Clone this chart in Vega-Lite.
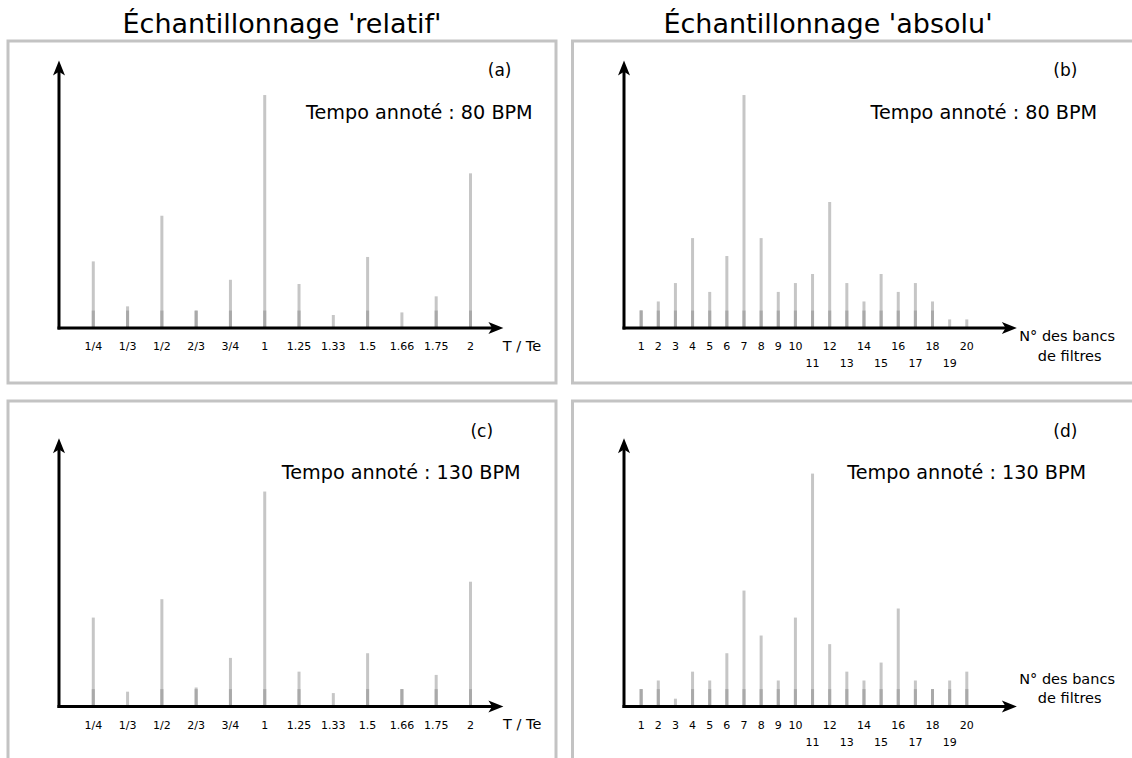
{
  "$schema": "https://vega.github.io/schema/vega-lite/v6.json",
  "background": "white",
  "padding": {"left": 6, "top": 9, "right": 0, "bottom": 0},
  "datasets": {
    "a": [
      {"k": 1, "ratio": "1/4", "v": 28.6}, {"k": 2, "ratio": "1/3", "v": 9.3}, {"k": 3, "ratio": "1/2", "v": 48.2},
      {"k": 4, "ratio": "2/3", "v": 7.4}, {"k": 5, "ratio": "3/4", "v": 20.7}, {"k": 6, "ratio": "1", "v": 100},
      {"k": 7, "ratio": "1.25", "v": 18.9}, {"k": 8, "ratio": "1.33", "v": 5.6}, {"k": 9, "ratio": "1.5", "v": 30.5},
      {"k": 10, "ratio": "1.66", "v": 6.7}, {"k": 11, "ratio": "1.75", "v": 13.6}, {"k": 12, "ratio": "2", "v": 66.4}
    ],
    "b": [
      {"k": 1, "v": 7.6}, {"k": 2, "v": 11.4}, {"k": 3, "v": 19.3}, {"k": 4, "v": 38.6}, {"k": 5, "v": 15.5},
      {"k": 6, "v": 30.9}, {"k": 7, "v": 100}, {"k": 8, "v": 38.6}, {"k": 9, "v": 15.5}, {"k": 10, "v": 19.3},
      {"k": 11, "v": 23.2}, {"k": 12, "v": 54.1}, {"k": 13, "v": 19.3}, {"k": 14, "v": 11.4}, {"k": 15, "v": 23.2},
      {"k": 16, "v": 15.5}, {"k": 17, "v": 19.3}, {"k": 18, "v": 11.4}, {"k": 19, "v": 3.7}, {"k": 20, "v": 3.7}
    ],
    "c": [
      {"k": 1, "ratio": "1/4", "v": 38.2}, {"k": 2, "ratio": "1/3", "v": 6.4}, {"k": 3, "ratio": "1/2", "v": 46.1},
      {"k": 4, "ratio": "2/3", "v": 8.2}, {"k": 5, "ratio": "3/4", "v": 20.9}, {"k": 6, "ratio": "1", "v": 92.3},
      {"k": 7, "ratio": "1.25", "v": 15.0}, {"k": 8, "ratio": "1.33", "v": 5.8}, {"k": 9, "ratio": "1.5", "v": 22.9},
      {"k": 10, "ratio": "1.66", "v": 7.5}, {"k": 11, "ratio": "1.75", "v": 13.6}, {"k": 12, "ratio": "2", "v": 53.6}
    ],
    "d": [
      {"k": 1, "v": 7.5}, {"k": 2, "v": 11.2}, {"k": 3, "v": 3.4}, {"k": 4, "v": 15.0}, {"k": 5, "v": 11.2},
      {"k": 6, "v": 22.9}, {"k": 7, "v": 49.8}, {"k": 8, "v": 30.5}, {"k": 9, "v": 11.2}, {"k": 10, "v": 38.2},
      {"k": 11, "v": 100}, {"k": 12, "v": 26.8}, {"k": 13, "v": 15.0}, {"k": 14, "v": 11.2}, {"k": 15, "v": 18.9},
      {"k": 16, "v": 42.1}, {"k": 17, "v": 11.2}, {"k": 18, "v": 7.5}, {"k": 19, "v": 11.2}, {"k": 20, "v": 15.0}
    ],
    "one": [{}]
  },
  "spacing": 13.9,
  "vconcat": [
    {
      "spacing": 12.5,
      "hconcat": [
        {
          "width": 548, "height": 342,
          "title": {"text": "Échantillonnage 'relatif'"},
          "layer": [
            {"data": {"name": "a"}, "mark": {"type": "rule", "color": "#c6c6c6", "strokeWidth": 3},
             "encoding": {
               "x": {"field": "k", "type": "quantitative", "scale": {"domain": [-1.487, 14.494], "nice": false, "zero": false}, "axis": null},
               "y": {"field": "v", "type": "quantitative", "scale": {"domain": [-23.6, 123.2], "nice": false, "zero": false}, "axis": null},
               "y2": {"datum": 0}}},
            {"data": {"name": "a"}, "transform": [{"filter": "datum.v >= 7"}], "mark": {"type": "rule", "color": "#a9a9a9", "strokeWidth": 3},
             "encoding": {"x": {"field": "k", "type": "quantitative", "axis": null}, "y": {"datum": 0, "type": "quantitative", "axis": null}, "y2": {"datum": 7.5}}},
            {"data": {"name": "a"}, "mark": {"type": "text", "fontSize": 11, "align": "center", "baseline": "middle"},
             "encoding": {"x": {"field": "k", "type": "quantitative", "axis": null}, "y": {"datum": -8.15, "type": "quantitative", "axis": null}, "text": {"field": "ratio", "type": "nominal"}}},
            {"data": {"name": "one"}, "mark": {"type": "rule", "color": "black", "strokeWidth": 3, "strokeCap": "square"},
             "encoding": {"x": {"datum": 0, "type": "quantitative", "axis": null}, "y": {"datum": 0, "type": "quantitative", "axis": null}, "y2": {"datum": 110.3}}},
            {"data": {"name": "one"}, "mark": {"type": "rule", "color": "black", "strokeWidth": 3, "strokeCap": "square"},
             "encoding": {"x": {"datum": 0, "type": "quantitative", "axis": null}, "x2": {"datum": 12.7}, "y": {"datum": 0, "type": "quantitative", "axis": null}}},
            {"data": {"name": "one"}, "mark": {"type": "point", "shape": "M0,0 L0.8,2 L0,1.5 L-0.8,2 Z", "size": 225, "filled": true, "color": "black", "opacity": 1},
             "encoding": {"x": {"datum": 0, "type": "quantitative", "axis": null}, "y": {"datum": 114.8, "type": "quantitative", "axis": null}}},
            {"data": {"name": "one"}, "mark": {"type": "point", "shape": "M0,0 L-2,-0.8 L-1.5,0 L-2,0.8 Z", "size": 225, "filled": true, "color": "black", "opacity": 1},
             "encoding": {"x": {"datum": 12.96, "type": "quantitative", "axis": null}, "y": {"datum": 0, "type": "quantitative", "axis": null}}},
            {"data": {"name": "one"}, "mark": {"type": "text", "text": "(a)", "fontSize": 17, "align": "center", "baseline": "middle"},
             "encoding": {"x": {"datum": 12.85, "type": "quantitative", "axis": null}, "y": {"datum": 110.2, "type": "quantitative", "axis": null}}},
            {"data": {"name": "one"}, "mark": {"type": "text", "text": "Tempo annoté : 80 BPM", "fontSize": 19.2, "align": "center", "baseline": "middle"},
             "encoding": {"x": {"datum": 10.51, "type": "quantitative", "axis": null}, "y": {"datum": 92.4, "type": "quantitative", "axis": null}}},
            {"data": {"name": "one"}, "mark": {"type": "text", "text": "T / Te", "fontSize": 14.5, "align": "center", "baseline": "middle"},
             "encoding": {"x": {"datum": 13.5, "type": "quantitative", "axis": null}, "y": {"datum": -7.94, "type": "quantitative", "axis": null}}}
          ]
        },
        {
          "width": 575, "height": 342,
          "title": {"text": "Échantillonnage 'absolu'", "dx": -32},
          "layer": [
            {"data": {"name": "b"}, "mark": {"type": "rule", "color": "#c6c6c6", "strokeWidth": 3},
             "encoding": {
               "x": {"field": "k", "type": "quantitative", "scale": {"domain": [-3.005, 30.542], "nice": false, "zero": false}, "axis": null},
               "y": {"field": "v", "type": "quantitative", "scale": {"domain": [-23.6, 123.2], "nice": false, "zero": false}, "axis": null},
               "y2": {"datum": 0}}},
            {"data": {"name": "b"}, "transform": [{"filter": "datum.v >= 7"}], "mark": {"type": "rule", "color": "#a9a9a9", "strokeWidth": 3},
             "encoding": {"x": {"field": "k", "type": "quantitative", "axis": null}, "y": {"datum": 0, "type": "quantitative", "axis": null}, "y2": {"datum": 7.5}}},
            {"data": {"name": "b"}, "transform": [{"filter": "datum.k <= 10 || datum.k % 2 == 0"}], "mark": {"type": "text", "fontSize": 11, "align": "center", "baseline": "middle"},
             "encoding": {"x": {"field": "k", "type": "quantitative", "axis": null}, "y": {"datum": -8.0, "type": "quantitative", "axis": null}, "text": {"field": "k", "type": "nominal"}}},
            {"data": {"name": "b"}, "transform": [{"filter": "datum.k > 10 && datum.k % 2 == 1"}], "mark": {"type": "text", "fontSize": 11, "align": "center", "baseline": "middle"},
             "encoding": {"x": {"field": "k", "type": "quantitative", "axis": null}, "y": {"datum": -15.6, "type": "quantitative", "axis": null}, "text": {"field": "k", "type": "nominal"}}},
            {"data": {"name": "one"}, "mark": {"type": "rule", "color": "black", "strokeWidth": 3, "strokeCap": "square"},
             "encoding": {"x": {"datum": 0, "type": "quantitative", "axis": null}, "y": {"datum": 0, "type": "quantitative", "axis": null}, "y2": {"datum": 110.3}}},
            {"data": {"name": "one"}, "mark": {"type": "rule", "color": "black", "strokeWidth": 3, "strokeCap": "square"},
             "encoding": {"x": {"datum": 0, "type": "quantitative", "axis": null}, "x2": {"datum": 22.35}, "y": {"datum": 0, "type": "quantitative", "axis": null}}},
            {"data": {"name": "one"}, "mark": {"type": "point", "shape": "M0,0 L0.8,2 L0,1.5 L-0.8,2 Z", "size": 225, "filled": true, "color": "black", "opacity": 1},
             "encoding": {"x": {"datum": 0, "type": "quantitative", "axis": null}, "y": {"datum": 114.8, "type": "quantitative", "axis": null}}},
            {"data": {"name": "one"}, "mark": {"type": "point", "shape": "M0,0 L-2,-0.8 L-1.5,0 L-2,0.8 Z", "size": 225, "filled": true, "color": "black", "opacity": 1},
             "encoding": {"x": {"datum": 22.92, "type": "quantitative", "axis": null}, "y": {"datum": 0, "type": "quantitative", "axis": null}}},
            {"data": {"name": "one"}, "mark": {"type": "text", "text": "(b)", "fontSize": 17, "align": "center", "baseline": "middle"},
             "encoding": {"x": {"datum": 25.75, "type": "quantitative", "axis": null}, "y": {"datum": 110.2, "type": "quantitative", "axis": null}}},
            {"data": {"name": "one"}, "mark": {"type": "text", "text": "Tempo annoté : 80 BPM", "fontSize": 19.2, "align": "center", "baseline": "middle"},
             "encoding": {"x": {"datum": 20.99, "type": "quantitative", "axis": null}, "y": {"datum": 92.4, "type": "quantitative", "axis": null}}},
            {"data": {"name": "one"}, "mark": {"type": "text", "text": "N° des bancs", "fontSize": 14.5, "align": "center", "baseline": "middle"},
             "encoding": {"x": {"datum": 25.85, "type": "quantitative", "axis": null}, "y": {"datum": -3.95, "type": "quantitative", "axis": null}}},
            {"data": {"name": "one"}, "mark": {"type": "text", "text": "de filtres", "fontSize": 14.5, "align": "center", "baseline": "middle"},
             "encoding": {"x": {"datum": 26.0, "type": "quantitative", "axis": null}, "y": {"datum": -12.36, "type": "quantitative", "axis": null}}}
          ]
        }
      ]
    },
    {
      "spacing": 12.5,
      "hconcat": [
        {
          "width": 548, "height": 370,
          "layer": [
            {"data": {"name": "c"}, "mark": {"type": "rule", "color": "#c6c6c6", "strokeWidth": 3},
             "encoding": {
               "x": {"field": "k", "type": "quantitative", "scale": {"domain": [-1.487, 14.494], "nice": false, "zero": false}, "axis": null},
               "y": {"field": "v", "type": "quantitative", "scale": {"domain": [-27.6, 131.2], "nice": false, "zero": false}, "axis": null},
               "y2": {"datum": 0}}},
            {"data": {"name": "c"}, "transform": [{"filter": "datum.v >= 7"}], "mark": {"type": "rule", "color": "#a9a9a9", "strokeWidth": 3},
             "encoding": {"x": {"field": "k", "type": "quantitative", "axis": null}, "y": {"datum": 0, "type": "quantitative", "axis": null}, "y2": {"datum": 7.5}}},
            {"data": {"name": "c"}, "mark": {"type": "text", "fontSize": 11, "align": "center", "baseline": "middle"},
             "encoding": {"x": {"field": "k", "type": "quantitative", "axis": null}, "y": {"datum": -8.3, "type": "quantitative", "axis": null}, "text": {"field": "ratio", "type": "nominal"}}},
            {"data": {"name": "one"}, "mark": {"type": "rule", "color": "black", "strokeWidth": 3, "strokeCap": "square"},
             "encoding": {"x": {"datum": 0, "type": "quantitative", "axis": null}, "y": {"datum": 0, "type": "quantitative", "axis": null}, "y2": {"datum": 110.7}}},
            {"data": {"name": "one"}, "mark": {"type": "rule", "color": "black", "strokeWidth": 3, "strokeCap": "square"},
             "encoding": {"x": {"datum": 0, "type": "quantitative", "axis": null}, "x2": {"datum": 12.7}, "y": {"datum": 0, "type": "quantitative", "axis": null}}},
            {"data": {"name": "one"}, "mark": {"type": "point", "shape": "M0,0 L0.8,2 L0,1.5 L-0.8,2 Z", "size": 225, "filled": true, "color": "black", "opacity": 1},
             "encoding": {"x": {"datum": 0, "type": "quantitative", "axis": null}, "y": {"datum": 115.2, "type": "quantitative", "axis": null}}},
            {"data": {"name": "one"}, "mark": {"type": "point", "shape": "M0,0 L-2,-0.8 L-1.5,0 L-2,0.8 Z", "size": 225, "filled": true, "color": "black", "opacity": 1},
             "encoding": {"x": {"datum": 12.96, "type": "quantitative", "axis": null}, "y": {"datum": 0, "type": "quantitative", "axis": null}}},
            {"data": {"name": "one"}, "mark": {"type": "text", "text": "(c)", "fontSize": 17, "align": "center", "baseline": "middle"},
             "encoding": {"x": {"datum": 12.33, "type": "quantitative", "axis": null}, "y": {"datum": 118.0, "type": "quantitative", "axis": null}}},
            {"data": {"name": "one"}, "mark": {"type": "text", "text": "Tempo annoté : 130 BPM", "fontSize": 19.2, "align": "center", "baseline": "middle"},
             "encoding": {"x": {"datum": 9.98, "type": "quantitative", "axis": null}, "y": {"datum": 100.2, "type": "quantitative", "axis": null}}},
            {"data": {"name": "one"}, "mark": {"type": "text", "text": "T / Te", "fontSize": 14.5, "align": "center", "baseline": "middle"},
             "encoding": {"x": {"datum": 13.51, "type": "quantitative", "axis": null}, "y": {"datum": -7.85, "type": "quantitative", "axis": null}}}
          ]
        },
        {
          "width": 575, "height": 370,
          "layer": [
            {"data": {"name": "d"}, "mark": {"type": "rule", "color": "#c6c6c6", "strokeWidth": 3},
             "encoding": {
               "x": {"field": "k", "type": "quantitative", "scale": {"domain": [-3.005, 30.542], "nice": false, "zero": false}, "axis": null},
               "y": {"field": "v", "type": "quantitative", "scale": {"domain": [-27.6, 131.2], "nice": false, "zero": false}, "axis": null},
               "y2": {"datum": 0}}},
            {"data": {"name": "d"}, "transform": [{"filter": "datum.v >= 7"}], "mark": {"type": "rule", "color": "#a9a9a9", "strokeWidth": 3},
             "encoding": {"x": {"field": "k", "type": "quantitative", "axis": null}, "y": {"datum": 0, "type": "quantitative", "axis": null}, "y2": {"datum": 7.5}}},
            {"data": {"name": "d"}, "transform": [{"filter": "datum.k <= 10 || datum.k % 2 == 0"}], "mark": {"type": "text", "fontSize": 11, "align": "center", "baseline": "middle"},
             "encoding": {"x": {"field": "k", "type": "quantitative", "axis": null}, "y": {"datum": -8.3, "type": "quantitative", "axis": null}, "text": {"field": "k", "type": "nominal"}}},
            {"data": {"name": "d"}, "transform": [{"filter": "datum.k > 10 && datum.k % 2 == 1"}], "mark": {"type": "text", "fontSize": 11, "align": "center", "baseline": "middle"},
             "encoding": {"x": {"field": "k", "type": "quantitative", "axis": null}, "y": {"datum": -15.7, "type": "quantitative", "axis": null}, "text": {"field": "k", "type": "nominal"}}},
            {"data": {"name": "one"}, "mark": {"type": "rule", "color": "black", "strokeWidth": 3, "strokeCap": "square"},
             "encoding": {"x": {"datum": 0, "type": "quantitative", "axis": null}, "y": {"datum": 0, "type": "quantitative", "axis": null}, "y2": {"datum": 110.7}}},
            {"data": {"name": "one"}, "mark": {"type": "rule", "color": "black", "strokeWidth": 3, "strokeCap": "square"},
             "encoding": {"x": {"datum": 0, "type": "quantitative", "axis": null}, "x2": {"datum": 22.35}, "y": {"datum": 0, "type": "quantitative", "axis": null}}},
            {"data": {"name": "one"}, "mark": {"type": "point", "shape": "M0,0 L0.8,2 L0,1.5 L-0.8,2 Z", "size": 225, "filled": true, "color": "black", "opacity": 1},
             "encoding": {"x": {"datum": 0, "type": "quantitative", "axis": null}, "y": {"datum": 115.2, "type": "quantitative", "axis": null}}},
            {"data": {"name": "one"}, "mark": {"type": "point", "shape": "M0,0 L-2,-0.8 L-1.5,0 L-2,0.8 Z", "size": 225, "filled": true, "color": "black", "opacity": 1},
             "encoding": {"x": {"datum": 22.92, "type": "quantitative", "axis": null}, "y": {"datum": 0, "type": "quantitative", "axis": null}}},
            {"data": {"name": "one"}, "mark": {"type": "text", "text": "(d)", "fontSize": 17, "align": "center", "baseline": "middle"},
             "encoding": {"x": {"datum": 25.75, "type": "quantitative", "axis": null}, "y": {"datum": 118.0, "type": "quantitative", "axis": null}}},
            {"data": {"name": "one"}, "mark": {"type": "text", "text": "Tempo annoté : 130 BPM", "fontSize": 19.2, "align": "center", "baseline": "middle"},
             "encoding": {"x": {"datum": 19.99, "type": "quantitative", "axis": null}, "y": {"datum": 100.2, "type": "quantitative", "axis": null}}},
            {"data": {"name": "one"}, "mark": {"type": "text", "text": "N° des bancs", "fontSize": 14.5, "align": "center", "baseline": "middle"},
             "encoding": {"x": {"datum": 25.85, "type": "quantitative", "axis": null}, "y": {"datum": 11.46, "type": "quantitative", "axis": null}}},
            {"data": {"name": "one"}, "mark": {"type": "text", "text": "de filtres", "fontSize": 14.5, "align": "center", "baseline": "middle"},
             "encoding": {"x": {"datum": 26.0, "type": "quantitative", "axis": null}, "y": {"datum": 3.18, "type": "quantitative", "axis": null}}}
          ]
        }
      ]
    }
  ],
  "config": {
    "view": {"stroke": "#c3c3c3", "strokeWidth": 3},
    "text": {"font": "DejaVu Sans", "color": "black"},
    "title": {"font": "DejaVu Sans", "fontSize": 27, "fontWeight": "normal", "color": "black", "offset": 2, "baseline": "alphabetic", "anchor": "middle"}
  }
}
